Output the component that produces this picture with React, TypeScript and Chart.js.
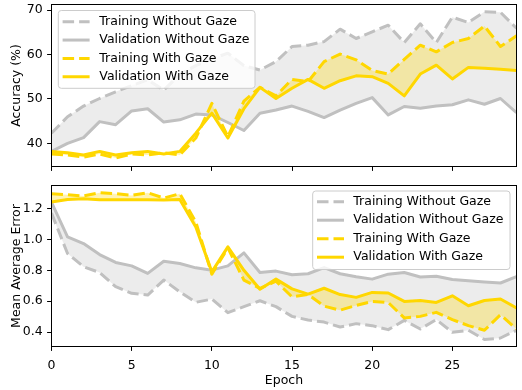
import React, { useEffect, useRef } from 'react';
import { Chart, registerables } from 'chart.js';

Chart.register(...registerables);

// ---------- data ----------
const epochs = [0, 1, 2, 3, 4, 5, 6, 7, 8, 9, 10, 11, 12, 13, 14, 15, 16, 17, 18, 19, 20, 21, 22, 23, 24, 25, 26, 27, 28, 29];
const xTickValues = [0, 5, 10, 15, 20, 25];
const accTickValues = [40, 50, 60, 70];
const maeTickValues = [0.4, 0.6, 0.8, 1.0, 1.2];

const seriesLabels = ['Training Without Gaze', 'Validation Without Gaze', 'Training With Gaze', 'Validation With Gaze'];

const accTrainNoGaze = [42.3, 46.0, 48.4, 50.1, 51.6, 53.0, 54.3, 52.0, 55.5, 57.5, 59.0, 60.3, 57.5, 56.5, 58.4, 61.8, 62.1, 62.9, 65.7, 63.6, 65.1, 66.6, 62.7, 66.9, 62.7, 68.4, 67.2, 69.6, 69.5, 65.9];
const accValNoGaze = [38.2, 40.0, 41.3, 44.9, 44.2, 47.3, 47.8, 44.8, 45.3, 46.6, 46.4, 44.7, 42.9, 46.8, 47.5, 48.4, 47.2, 45.8, 47.5, 49.0, 50.3, 46.4, 48.3, 47.9, 48.4, 48.7, 49.8, 48.8, 50.1, 46.9];
const accTrainGaze = [37.6, 37.4, 36.9, 37.6, 36.7, 37.6, 37.4, 37.9, 37.4, 41.2, 49.0, 41.5, 49.5, 52.6, 50.7, 54.4, 53.9, 58.4, 60.1, 58.8, 56.4, 55.6, 58.9, 62.1, 60.6, 62.7, 63.6, 66.4, 61.8, 64.2];
const accValGaze = [38.2, 37.9, 37.4, 38.2, 37.4, 37.9, 38.2, 37.6, 38.2, 42.3, 46.8, 41.2, 47.8, 52.6, 50.1, 52.4, 54.4, 52.4, 54.1, 55.2, 55.0, 53.5, 50.7, 55.6, 57.6, 54.5, 57.1, 56.9, 56.7, 56.4];

const maeTrainNoGaze = [1.17, 0.909, 0.823, 0.786, 0.694, 0.651, 0.640, 0.737, 0.661, 0.593, 0.614, 0.526, 0.565, 0.603, 0.565, 0.502, 0.478, 0.465, 0.433, 0.455, 0.442, 0.416, 0.476, 0.420, 0.481, 0.399, 0.412, 0.352, 0.362, 0.412];
const maeValNoGaze = [1.24, 1.016, 0.973, 0.902, 0.851, 0.829, 0.780, 0.859, 0.844, 0.816, 0.801, 0.829, 0.913, 0.786, 0.795, 0.771, 0.778, 0.818, 0.778, 0.759, 0.743, 0.775, 0.786, 0.757, 0.762, 0.741, 0.732, 0.725, 0.718, 0.759];
const maeTrainGaze = [1.296, 1.289, 1.281, 1.302, 1.296, 1.285, 1.302, 1.268, 1.296, 1.113, 0.775, 0.945, 0.737, 0.683, 0.730, 0.628, 0.644, 0.568, 0.542, 0.573, 0.599, 0.592, 0.492, 0.502, 0.528, 0.481, 0.442, 0.412, 0.513, 0.420];
const maeValGaze = [1.242, 1.259, 1.264, 1.257, 1.257, 1.257, 1.257, 1.255, 1.259, 1.08, 0.79, 0.952, 0.80, 0.678, 0.743, 0.680, 0.646, 0.684, 0.643, 0.625, 0.657, 0.653, 0.599, 0.605, 0.592, 0.635, 0.571, 0.605, 0.614, 0.556];

// ---------- style ----------
const FONT_FAMILY = '"DejaVu Sans", sans-serif';
const FS = 12.5;
const GRAY = '#c0c0c0';
const GOLD = '#ffd700';
const GRAY_FILL = 'rgba(192,192,192,0.3)';
const GOLD_FILL = 'rgba(255,215,0,0.3)';
const DASH = [11.5, 5];
const LW = 3;

const pts = (ys: number[]) => epochs.map((x, i) => ({ x, y: ys[i] }));

const framePlugin = {
  id: 'frame',
  afterDatasetsDraw(chart: any) {
    const { ctx, chartArea: a } = chart;
    ctx.save();
    ctx.strokeStyle = '#000';
    ctx.lineWidth = 1;
    ctx.setLineDash([]);
    ctx.strokeRect(a.left, a.top, a.right - a.left, a.bottom - a.top);
    ctx.restore();
  },
};

const boxLegendPlugin = {
  id: 'boxLegend',
  afterDraw(chart: any, _args: any, opts: any) {
    if (!opts || !opts.w) return;
    const { ctx } = chart;
    const { x, y, w, h, row0, gap, textX } = opts;
    const r = 3;
    ctx.save();
    ctx.beginPath();
    ctx.moveTo(x + r, y);
    ctx.lineTo(x + w - r, y);
    ctx.arcTo(x + w, y, x + w, y + r, r);
    ctx.lineTo(x + w, y + h - r);
    ctx.arcTo(x + w, y + h, x + w - r, y + h, r);
    ctx.lineTo(x + r, y + h);
    ctx.arcTo(x, y + h, x, y + h - r, r);
    ctx.lineTo(x, y + r);
    ctx.arcTo(x, y, x + r, y, r);
    ctx.closePath();
    ctx.fillStyle = 'rgba(255,255,255,0.8)';
    ctx.fill();
    ctx.strokeStyle = '#cccccc';
    ctx.lineWidth = 1;
    ctx.stroke();
    chart.data.datasets.forEach((ds: any, i: number) => {
      const cy = y + row0 + i * gap;
      ctx.beginPath();
      ctx.strokeStyle = ds.borderColor;
      ctx.lineWidth = LW;
      ctx.lineCap = 'butt';
      ctx.setLineDash(ds.borderDash || []);
      ctx.moveTo(x + 4.3, cy);
      ctx.lineTo(x + 4.3 + 27, cy);
      ctx.stroke();
      ctx.setLineDash([]);
      ctx.fillStyle = '#000';
      ctx.font = `${FS}px ${FONT_FAMILY}`;
      ctx.textBaseline = 'middle';
      ctx.textAlign = 'left';
      ctx.fillText(ds.label, x + textX, cy);
    });
    ctx.restore();
  },
};

function makeDatasets(tNo: number[], vNo: number[], tG: number[], vG: number[]) {
  const base = { borderWidth: LW, pointRadius: 0, tension: 0, borderJoinStyle: 'round', borderCapStyle: 'butt' };
  return [
    { ...base, label: seriesLabels[0], data: pts(tNo), borderColor: GRAY, borderDash: DASH, fill: '+1', backgroundColor: GRAY_FILL, order: 2 },
    { ...base, label: seriesLabels[1], data: pts(vNo), borderColor: GRAY, fill: false, order: 2 },
    { ...base, label: seriesLabels[2], data: pts(tG), borderColor: GOLD, borderDash: DASH, fill: '+1', backgroundColor: GOLD_FILL, order: 1 },
    { ...base, label: seriesLabels[3], data: pts(vG), borderColor: GOLD, fill: false, order: 1 },
  ];
}

const font = { family: FONT_FAMILY, size: FS };

function makeConfig(opts: any) {
  const { datasets, yMin, yMax, yTicks, yFmt, yTitle, showXLabels, xHeight, padTop, legend } = opts;
  return {
    type: 'line',
    data: { datasets },
    plugins: [framePlugin, boxLegendPlugin],
    options: {
      animation: false,
      responsive: false,
      maintainAspectRatio: false,
      events: [],
      layout: { padding: { top: padTop, right: 5.5, left: 0, bottom: 0 } },
      plugins: {
        legend: { display: false },
        tooltip: { enabled: false },
        filler: { drawTime: 'beforeDatasetsDraw', propagate: false },
        boxLegend: legend,
      },
      scales: {
        x: {
          type: 'linear',
          min: 0,
          max: 29,
          afterBuildTicks: (s: any) => { s.ticks = xTickValues.map((v) => ({ value: v })); },
          afterFit: (s: any) => {
            s.height = xHeight;
            s.paddingLeft = 0;
            s.paddingRight = 0;
            s.paddingTop = 0;
            s.paddingBottom = 0;
          },
          grid: { drawOnChartArea: false, drawTicks: true, tickLength: 4.4, tickColor: '#000', tickWidth: 1 },
          border: { display: false },
          ticks: {
            font,
            color: '#000',
            padding: 7,
            maxRotation: 0,
            autoSkip: false,
            callback: (v: any) => (showXLabels ? String(v) : ''),
          },
          title: showXLabels
            ? { display: true, text: 'Epoch', font, color: '#000', padding: { top: 0, bottom: 2 } }
            : { display: false },
        },
        y: {
          type: 'linear',
          min: yMin,
          max: yMax,
          afterBuildTicks: (s: any) => { s.ticks = yTicks.map((v: number) => ({ value: v })); },
          afterFit: (s: any) => {
            s.width = 51.5;
            s.paddingTop = 0;
            s.paddingBottom = 0;
            s.paddingLeft = 0;
            s.paddingRight = 0;
          },
          grid: { drawOnChartArea: false, drawTicks: true, tickLength: 4.4, tickColor: '#000', tickWidth: 1 },
          border: { display: false },
          ticks: { font, color: '#000', padding: 4.4, autoSkip: false, callback: (v: any) => yFmt(v) },
          title: { display: true, text: yTitle, font, color: '#000', padding: { top: 9, bottom: 0 } },
        },
      },
    },
  } as any;
}

export default function App() {
  const topRef = useRef<HTMLCanvasElement>(null);
  const botRef = useRef<HTMLCanvasElement>(null);

  useEffect(() => {
    const c1 = new Chart(
      topRef.current as HTMLCanvasElement,
      makeConfig({
        datasets: makeDatasets(accTrainNoGaze, accValNoGaze, accTrainGaze, accValGaze),
        yMin: 34.8,
        yMax: 71.25,
        yTicks: accTickValues,
        yFmt: (v: number) => String(v),
        yTitle: 'Accuracy (%)',
        showXLabels: false,
        xHeight: 13.5,
        padTop: 4.5,
        legend: { x: 58.3, y: 10.5, w: 196.7, h: 77.8, row0: 11.2, gap: 18.35, textX: 41 },
      })
    );
    const c2 = new Chart(
      botRef.current as HTMLCanvasElement,
      makeConfig({
        datasets: makeDatasets(maeTrainNoGaze, maeValNoGaze, maeTrainGaze, maeValGaze),
        yMin: 0.307,
        yMax: 1.349,
        yTicks: maeTickValues,
        yFmt: (v: number) => Number(v).toFixed(1),
        yTitle: 'Mean Average Error',
        showXLabels: true,
        xHeight: 43.5,
        padTop: 5.5,
        legend: { x: 312.7, y: 11, w: 197.3, h: 78.5, row0: 10.7, gap: 18.5, textX: 40.6 },
      })
    );
    return () => {
      c1.destroy();
      c2.destroy();
    };
  }, []);

  return (
    <div style={{ position: 'absolute', left: 0, top: 0, width: 522, height: 390, background: '#fff' }}>
      <canvas ref={topRef} width={522} height={180} style={{ position: 'absolute', left: 0, top: 0, width: 522, height: 180 }} />
      <canvas ref={botRef} width={522} height={210} style={{ position: 'absolute', left: 0, top: 180, width: 522, height: 210 }} />
    </div>
  );
}
